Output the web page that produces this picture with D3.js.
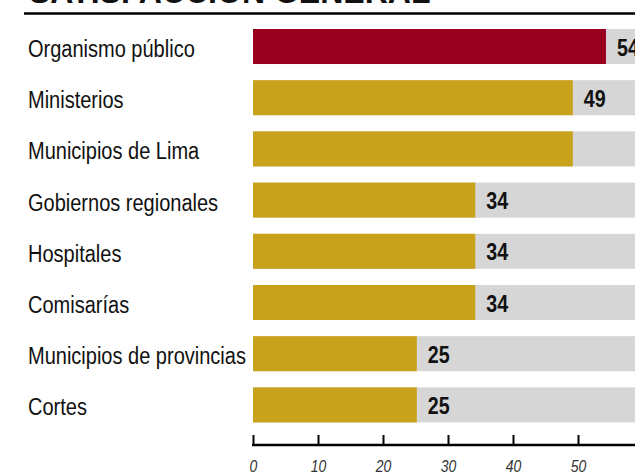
<!DOCTYPE html>
<html>
<head>
<meta charset="utf-8">
<script src="https://cdn.jsdelivr.net/npm/d3@7"></script>
<style>
	body { margin: 0; background: #fff; }
	svg { display: block; }
	.cat_label { font-family: "Liberation Sans Narrow", "Liberation Sans", Arial, sans-serif; font-size: 23px; fill: #111; }
	.value_label { font-family: "Liberation Sans Narrow", "Liberation Sans", Arial, sans-serif; font-size: 24px; font-weight: bold; fill: #111; }
	.tick_label { font-family: "Liberation Sans Narrow", "Liberation Sans", Arial, sans-serif; font-size: 16.5px; font-style: italic; fill: #333; }
	.title { font-family: "Liberation Sans Narrow", "Liberation Sans", Arial, sans-serif; font-size: 36px; font-weight: bold; fill: #111; }
</style>
</head>
<body>
<div id="chart"></div>
<script>

var title = "SATISFACCIÓN GENERAL"

var categories = ["Organismo público", "Ministerios", "Municipios de Lima", "Gobiernos regionales",
	"Hospitales", "Comisarías", "Municipios de provincias", "Cortes"]
var values = [54.3, 49.2, 49.2, 34.2, 34.2, 34.2, 25.2, 25.2]
// the chart prints no number for "Municipios de Lima"
var value_labels = ["54", "49", "", "34", "34", "34", "25", "25"]
var tick_values = [0, 10, 20, 30, 40, 50]
var track_max = 60

var width = 635, height = 475
var red = "#99001f", gold = "#c8a21b", grey = "#d6d6d6"
// the source uses a condensed face; squeeze the regular one sideways
var narrow = 0.87

var svg = d3.select("#chart").append("svg")
	.attr("width", width)
	.attr("height", height)

var x = d3.scaleLinear().domain([0, track_max]).range([253, 643])

var step = 51.2
var inner = 0.316
var y = d3.scaleBand()
	.domain(categories)
	.range([29 - step * inner / 2, 29 - step * inner / 2 + step * categories.length])
	.paddingInner(inner)
	.paddingOuter(inner / 2)

// title, cut off at the top of the picture
svg.append("text")
	.attr("class", "title")
	.attr("transform", "translate(29,3) scale(0.89,1)")
	.text(title)

svg.append("line")
	.attr("x1", 24).attr("x2", width)
	.attr("y1", 13.5).attr("y2", 13.5)
	.attr("stroke", "#000")
	.attr("stroke-width", 2.5)

var data = d3.zip(categories, values, value_labels)

var rows = svg.selectAll(".row")
	.data(data)
	.enter()
	.append("g")
	.attr("class", "row")

// grey track behind each bar
rows.append("rect")
	.attr("x", x(0))
	.attr("y", function(d) {return y(d[0])})
	.attr("width", x(track_max) - x(0))
	.attr("height", y.bandwidth())
	.attr("fill", grey)

rows.append("rect")
	.attr("x", x(0))
	.attr("y", function(d) {return y(d[0])})
	.attr("width", function(d) {return x(d[1]) - x(0)})
	.attr("height", y.bandwidth())
	.attr("fill", function(d, i) {return i == 0 ? red : gold})

rows.append("text")
	.attr("class", "cat_label")
	.attr("transform", function(d) {
		return "translate(28," + (y(d[0]) + y.bandwidth() / 2 + 10.5) + ") scale(" + narrow + ",1)"
	})
	.text(function(d) {return d[0]})

rows.append("text")
	.attr("class", "value_label")
	.attr("transform", function(d) {
		return "translate(" + (x(d[1]) + 11) + "," + (y(d[0]) + y.bandwidth() / 2 + 9) + ") scale(0.82,1)"
	})
	.text(function(d) {return d[2]})

// axis
var axis_y = 445
var axis = svg.append("g")
	.attr("transform", "translate(0," + axis_y + ")")
	.call(d3.axisBottom(x).tickValues(tick_values).tickSize(0).tickFormat(""))

axis.select(".domain").remove()

axis.append("line")
	.attr("x1", x(0) - 1).attr("x2", width)
	.attr("y1", 0).attr("y2", 0)
	.attr("stroke", "#000")
	.attr("stroke-width", 2.5)

axis.selectAll(".tick").append("line")
	.attr("y1", -10).attr("y2", 0)
	.attr("stroke", "#000")
	.attr("stroke-width", 2)

axis.selectAll(".tick").append("text")
	.attr("class", "tick_label")
	.attr("transform", "translate(0,27) scale(0.85,1)")
	.attr("text-anchor", "middle")
	.text(function(d) {return d})

</script>
</body>
</html>
